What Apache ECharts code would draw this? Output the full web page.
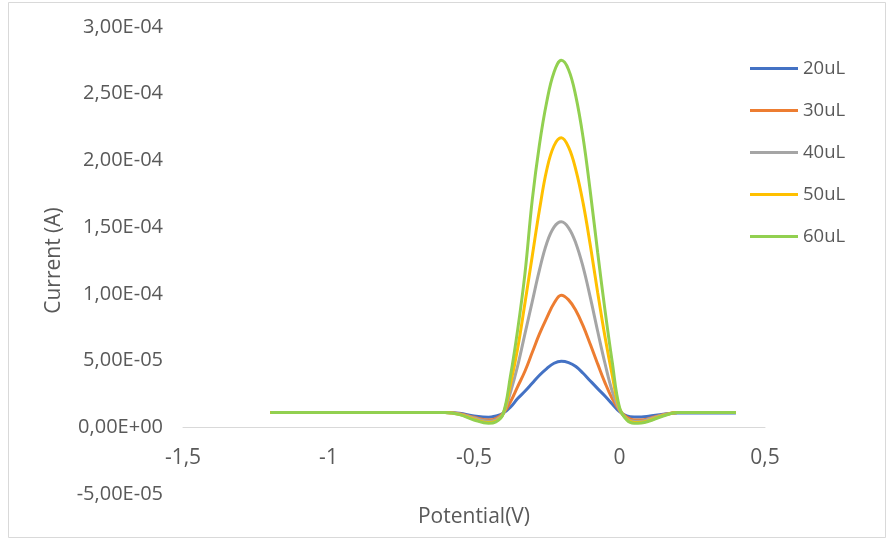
<!DOCTYPE html>
<html>
<head>
<meta charset="utf-8">
<title>Current vs Potential</title>
<script src="https://cdn.jsdelivr.net/npm/echarts@6/dist/echarts.min.js"></script>
<style>
  html, body { margin: 0; padding: 0; background: #fff; }
  #chart { width: 893px; height: 540px; }
</style>
</head>
<body>
<div id="chart"></div>
<script>
// potential (V), shared by every series
const potential = [-1.2, -0.9, -0.6, -0.55, -0.5, -0.45, -0.425, -0.4, -0.375, -0.35, -0.325, -0.3,
  -0.275, -0.25, -0.225, -0.2, -0.175, -0.15, -0.125, -0.1, -0.075, -0.05, -0.025, 0,
  0.025, 0.05, 0.075, 0.1, 0.15, 0.2, 0.3, 0.4]

// current (A)
const cur20 = [1.1e-5, 1.1e-5, 1.1e-5, 1.05e-5, 8.5e-6, 7.5e-6, 8.5e-6, 1.05e-5, 1.5e-5, 2.15e-5, 2.7e-5, 3.3e-5,
  3.9e-5, 4.4e-5, 4.8e-5, 4.95e-5, 4.85e-5, 4.55e-5, 4.05e-5, 3.47e-5, 2.9e-5, 2.35e-5, 1.75e-5, 1.17e-5,
  8.5e-6, 7.8e-6, 7.8e-6, 8.3e-6, 9.8e-6, 1.08e-5, 1.08e-5, 1.08e-5]
const cur30 = [1.1e-5, 1.1e-5, 1.1e-5, 1.02e-5, 7.5e-6, 5.5e-6, 6.5e-6, 1.05e-5, 1.9e-5, 3.05e-5, 4.2e-5, 5.6e-5,
  7.0e-5, 8.2e-5, 9.3e-5, 9.9e-5, 9.55e-5, 8.75e-5, 7.6e-5, 6.2e-5, 4.75e-5, 3.35e-5, 2.15e-5, 1.27e-5,
  7.5e-6, 5.5e-6, 5.5e-6, 6.5e-6, 9.5e-6, 1.1e-5, 1.1e-5, 1.1e-5]
const cur40 = [1.1e-5, 1.1e-5, 1.1e-5, 1.0e-5, 7.0e-6, 4.5e-6, 5.5e-6, 1.0e-5, 2.6e-5, 4.6e-5, 7.0e-5, 9.4e-5,
  1.18e-4, 1.38e-4, 1.50e-4, 1.54e-4, 1.495e-4, 1.38e-4, 1.20e-4, 9.7e-5, 7.2e-5, 4.8e-5, 2.7e-5, 1.3e-5,
  6.5e-6, 4.5e-6, 4.6e-6, 6.0e-6, 9.2e-6, 1.1e-5, 1.1e-5, 1.1e-5]
const cur50 = [1.1e-5, 1.1e-5, 1.1e-5, 9.7e-6, 6.0e-6, 3.5e-6, 4.5e-6, 1.0e-5, 3.2e-5, 5.9e-5, 9.3e-5, 1.28e-4,
  1.63e-4, 1.93e-4, 2.11e-4, 2.17e-4, 2.10e-4, 1.93e-4, 1.68e-4, 1.36e-4, 1.01e-4, 6.8e-5, 3.9e-5, 1.4e-5,
  6.0e-6, 3.5e-6, 3.7e-6, 5.0e-6, 8.8e-6, 1.1e-5, 1.1e-5, 1.1e-5]
const cur60 = [1.1e-5, 1.1e-5, 1.1e-5, 9.5e-6, 5.5e-6, 3.0e-6, 4.0e-6, 1.0e-5, 3.8e-5, 7.3e-5, 1.15e-4, 1.70e-4,
  2.12e-4, 2.44e-4, 2.66e-4, 2.75e-4, 2.68e-4, 2.48e-4, 2.17e-4, 1.76e-4, 1.31e-4, 8.8e-5, 4.9e-5, 1.5e-5,
  5.5e-6, 3.0e-6, 3.2e-6, 4.5e-6, 8.5e-6, 1.1e-5, 1.1e-5, 1.1e-5]

const seriesNames = ['20uL', '30uL', '40uL', '50uL', '60uL']
const seriesColors = ['#4472C4', '#ED7D31', '#A5A5A5', '#FFC000', '#92D050']
const allCurrents = [cur20, cur30, cur40, cur50, cur60]

const FONT = '"Open Sans", "Noto Sans", sans-serif'
const TEXT_COLOR = '#595959'

// 3,00E-04 style labels
const sciLabel = v => {
  if (Math.abs(v) < 1e-12) return '0,00E+00'
  const [m, e] = v.toExponential(2).split('e')
  const sign = e[0] === '-' ? '-' : '+'
  return m.replace('.', ',') + 'E' + sign + String(Math.abs(parseInt(e))).padStart(2, '0')
}

const chartInstance = echarts.init(document.getElementById('chart'))

const option = {
  animation: false,
  backgroundColor: '#fff',
  textStyle: { fontFamily: FONT },
  graphic: [
    {
      type: 'rect',
      shape: { x: 8.5, y: 2.5, width: 877, height: 535 },
      style: { fill: 'none', stroke: '#d9d9d9', lineWidth: 1 },
      silent: true
    }
  ],
  grid: { left: 183, right: 128, top: 27, bottom: 46, outerBoundsMode: 'none' },
  legend: {
    orient: 'vertical',
    left: 750,
    top: 59,
    padding: 0,
    icon: 'rect',
    itemWidth: 48,
    itemHeight: 3,
    itemGap: 23,
    data: seriesNames,
    textStyle: { color: TEXT_COLOR, fontSize: 18.5, fontFamily: FONT }
  },
  xAxis: {
    type: 'value',
    min: -1.5,
    max: 0.5,
    interval: 0.5,
    // axis sits on y = 0, labels travel with it
    offset: -67,
    name: 'Potential(V)',
    nameLocation: 'middle',
    nameGap: 80,
    nameTextStyle: { color: TEXT_COLOR, fontSize: 21, fontFamily: FONT },
    axisLine: { onZero: false, lineStyle: { color: '#d9d9d9', width: 1 } },
    axisTick: { show: false },
    splitLine: { show: false },
    axisLabel: {
      color: TEXT_COLOR,
      fontSize: 21,
      fontFamily: FONT,
      margin: 21,
      formatter: v => String(v).replace('.', ',')
    }
  },
  yAxis: {
    type: 'value',
    min: -5e-5,
    max: 3e-4,
    interval: 5e-5,
    name: 'Current (A)',
    nameLocation: 'middle',
    nameGap: 118,
    nameTextStyle: { color: TEXT_COLOR, fontSize: 21, fontFamily: FONT },
    axisLine: { show: false },
    axisTick: { show: false },
    splitLine: { show: false },
    axisLabel: {
      color: TEXT_COLOR,
      fontSize: 20,
      fontFamily: FONT,
      margin: 20,
      formatter: sciLabel
    }
  },
  series: seriesNames.map((name, i) => ({
    name: name,
    type: 'line',
    smooth: 0.4,
    showSymbol: false,
    symbol: 'none',
    lineStyle: { width: 3, color: seriesColors[i] },
    itemStyle: { color: seriesColors[i] },
    data: potential.map((x, j) => [x, allCurrents[i][j]])
  }))
}

chartInstance.setOption(option)
</script>
</body>
</html>
